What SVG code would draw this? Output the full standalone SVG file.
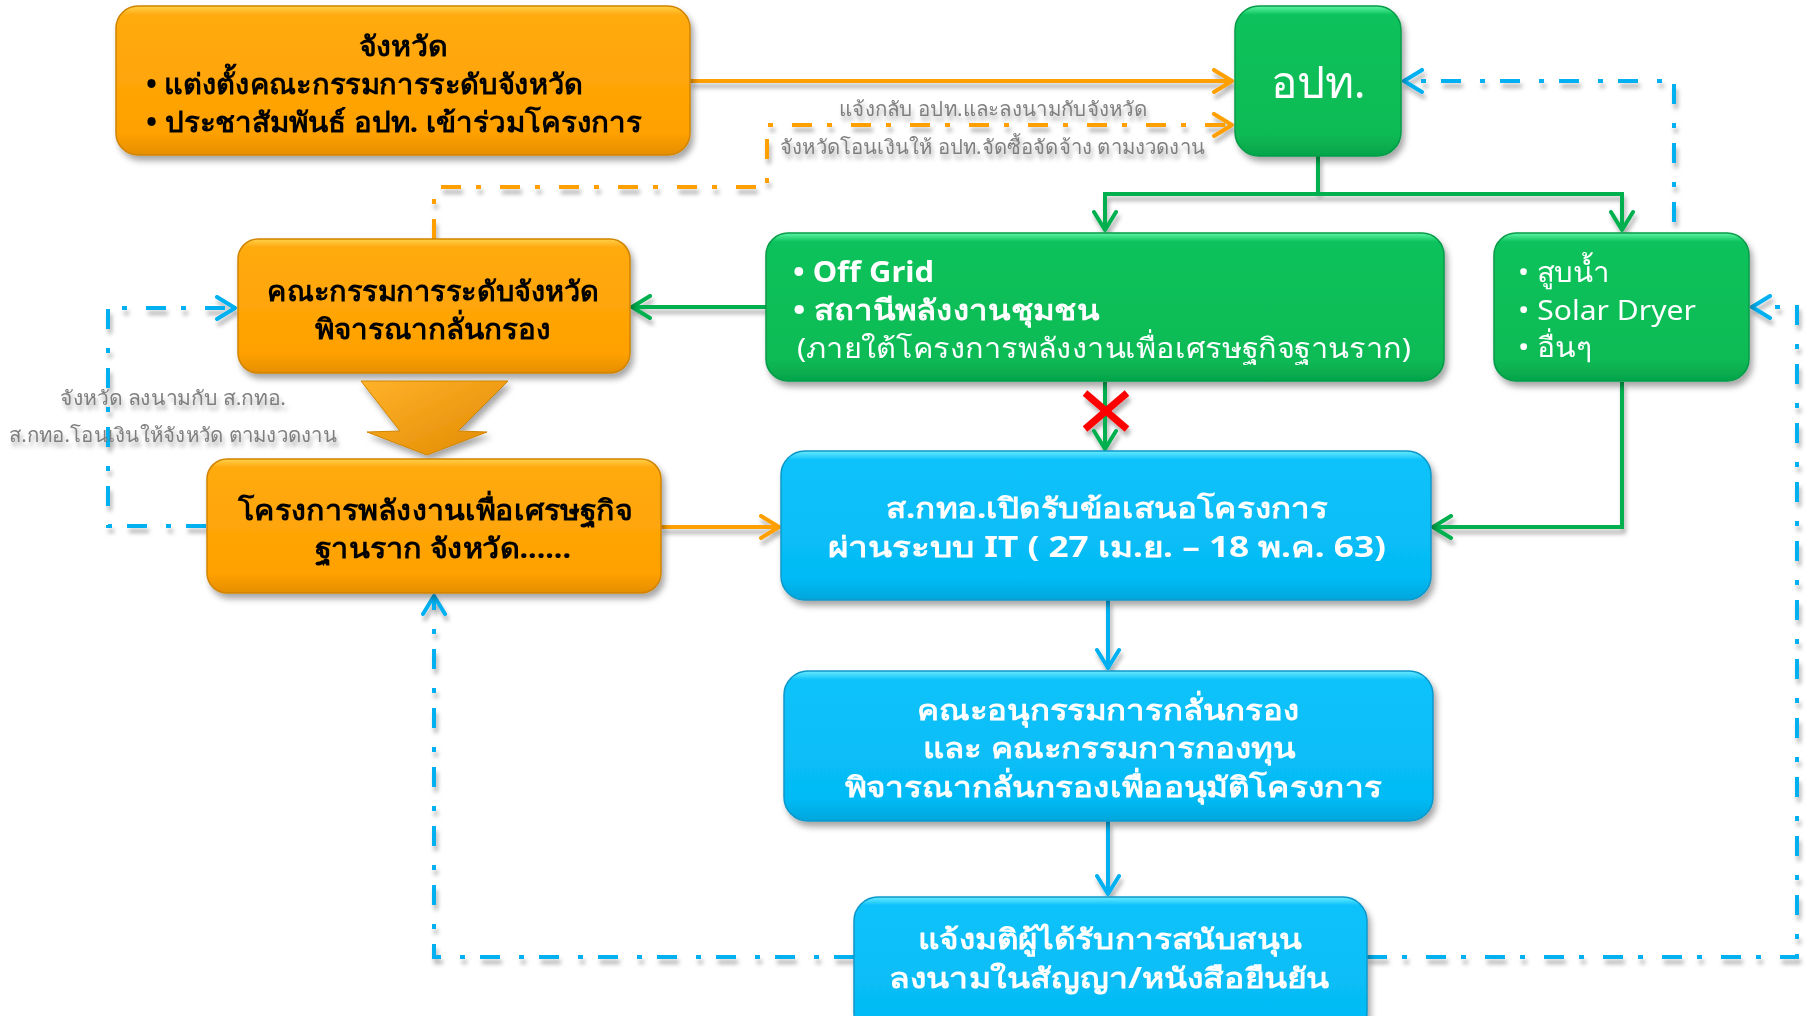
<svg xmlns="http://www.w3.org/2000/svg" width="1810" height="1016" viewBox="0 0 1810 1016">
<style>
.t{font-family:"Noto Sans","DejaVu Sans",sans-serif;}
.blk{fill:#000;font-weight:bold;font-size:28px;}
.wht{fill:#fff;font-weight:bold;font-size:28px;}
.whn{fill:#fff;font-weight:normal;font-size:28px;}
.gry{fill:#7F7F7F;font-size:20px;}
.c{text-anchor:middle;}
.on{fill:url(#gO);stroke:#D08400;stroke-width:1.5;}
.gn{fill:url(#gG);stroke:#079A48;stroke-width:1.5;}
.bn{fill:url(#gB);stroke:#0A97C9;stroke-width:1.5;}
.lo{fill:none;stroke:#FF9F00;stroke-width:4;}
.lg{fill:none;stroke:#00B050;stroke-width:4;}
.lb{fill:none;stroke:#00B0F0;stroke-width:4;}
.dd{stroke-dasharray:20 15 5 19;}
</style>
<defs>
<linearGradient id="gO" x1="0" y1="0" x2="0" y2="1">
<stop offset="0" stop-color="#FFD24A"/><stop offset="0.06" stop-color="#FFAA10"/><stop offset="0.85" stop-color="#FFA100"/><stop offset="1" stop-color="#E58E00"/>
</linearGradient>
<linearGradient id="gG" x1="0" y1="0" x2="0" y2="1">
<stop offset="0" stop-color="#5CF5A5"/><stop offset="0.06" stop-color="#0CC25B"/><stop offset="0.85" stop-color="#08BB55"/><stop offset="1" stop-color="#06A44A"/>
</linearGradient>
<linearGradient id="gB" x1="0" y1="0" x2="0" y2="1">
<stop offset="0" stop-color="#6AEBFF"/><stop offset="0.06" stop-color="#0CC2FA"/><stop offset="0.85" stop-color="#05BBF5"/><stop offset="1" stop-color="#04A6DC"/>
</linearGradient>
<linearGradient id="gA" x1="0" y1="0" x2="1" y2="1">
<stop offset="0" stop-color="#FFB22A"/><stop offset="1" stop-color="#E08A00"/>
</linearGradient>
<filter id="sh" x="-10%" y="-10%" width="120%" height="130%">
<feDropShadow dx="3" dy="5" stdDeviation="3" flood-color="#000" flood-opacity="0.35"/>
</filter>
<filter id="lsh" x="-5%" y="-5%" width="110%" height="110%">
<feDropShadow dx="2" dy="5" stdDeviation="2" flood-color="#000" flood-opacity="0.3"/>
</filter>
<marker id="ao" viewBox="0 0 24 26" refX="22" refY="13" markerWidth="24" markerHeight="26" markerUnits="userSpaceOnUse" orient="auto"><path d="M3,2 L21,13 L3,24" fill="none" stroke="#FF9F00" stroke-width="4" stroke-linecap="round" stroke-linejoin="round"/></marker>
<marker id="ag" viewBox="0 0 24 26" refX="22" refY="13" markerWidth="24" markerHeight="26" markerUnits="userSpaceOnUse" orient="auto"><path d="M3,2 L21,13 L3,24" fill="none" stroke="#00B050" stroke-width="4" stroke-linecap="round" stroke-linejoin="round"/></marker>
<marker id="ab" viewBox="0 0 24 26" refX="22" refY="13" markerWidth="24" markerHeight="26" markerUnits="userSpaceOnUse" orient="auto"><path d="M3,2 L21,13 L3,24" fill="none" stroke="#00B0F0" stroke-width="4" stroke-linecap="round" stroke-linejoin="round"/></marker>
</defs>
<rect width="1810" height="1016" fill="#fff"/>

<g id="connectors" filter="url(#lsh)">
<path class="lo" d="M690,81 H1233" marker-end="url(#ao)"/>
<path class="lo dd" d="M434,239 V187 H767 V125 H1233" marker-end="url(#ao)"/>
<path class="lg" d="M1318,156 V194 H1105 V231" marker-end="url(#ag)"/>
<path class="lg" d="M1318,194 H1622 V231" marker-end="url(#ag)"/>
<path class="lb dd" d="M1674,222 V81 H1403" marker-end="url(#ab)"/>
<path class="lg" d="M766,307 H631" marker-end="url(#ag)"/>
<path class="lg" d="M1105,382 V450" marker-end="url(#ag)"/>
<path class="lg" d="M1622,382 V527 H1432" marker-end="url(#ag)"/>
<path class="lo" d="M661,527 H780" marker-end="url(#ao)"/>
<path class="lb dd" d="M206,526 H108 V308 H236" marker-end="url(#ab)"/>
<path class="lb" d="M1108,600 V669" marker-end="url(#ab)"/>
<path class="lb" d="M1108,821 V895" marker-end="url(#ab)"/>
<path class="lb dd" d="M854,957 H434 V595" marker-end="url(#ab)"/>
<path class="lb dd" d="M1367,957 H1797 V307 H1751" marker-end="url(#ab)"/>
<g id="red-x" stroke="#FF0000" stroke-width="7">
<line x1="1085" y1="393" x2="1127" y2="429"/>
<line x1="1127" y1="393" x2="1085" y2="429"/>
</g>
<text class="t gry c" x="993" y="116" textLength="308" lengthAdjust="spacingAndGlyphs">แจ้งกลับ อปท.และลงนามกับจังหวัด</text>
<text class="t gry" x="780" y="154" textLength="425" lengthAdjust="spacingAndGlyphs">จังหวัดโอนเงินให้ อปท.จัดซื้อจัดจ้าง ตามงวดงาน</text>
<text class="t gry c" x="173" y="405" textLength="226" lengthAdjust="spacingAndGlyphs">จังหวัด ลงนามกับ ส.กทอ.</text>
<text class="t gry c" x="173" y="442" textLength="328" lengthAdjust="spacingAndGlyphs">ส.กทอ.โอนเงินให้จังหวัด ตามงวดงาน</text>
</g>

<g id="node-province" filter="url(#sh)">
<rect class="on" x="116" y="6" width="574" height="149" rx="22"/>
<text class="t blk c" x="403" y="56" textLength="89" lengthAdjust="spacingAndGlyphs">จังหวัด</text>
<text class="t blk" x="146" y="94" textLength="437" lengthAdjust="spacingAndGlyphs">• แต่งตั้งคณะกรรมการระดับจังหวัด</text>
<text class="t blk" x="146" y="132" textLength="496" lengthAdjust="spacingAndGlyphs">• ประชาสัมพันธ์ อปท. เข้าร่วมโครงการ</text>
</g>

<g id="node-lao" filter="url(#sh)">
<rect class="gn" x="1235" y="6" width="166" height="150" rx="24"/>
<text class="t whn c" x="1318" y="98" style="font-size:44px" textLength="95" lengthAdjust="spacingAndGlyphs">อปท.</text>
</g>

<g id="node-committee" filter="url(#sh)">
<rect class="on" x="238" y="239" width="392" height="134" rx="20"/>
<text class="t blk c" x="433" y="301" textLength="332" lengthAdjust="spacingAndGlyphs">คณะกรรมการระดับจังหวัด</text>
<text class="t blk c" x="433" y="339" textLength="236" lengthAdjust="spacingAndGlyphs">พิจารณากลั่นกรอง</text>
</g>

<g id="node-offgrid" filter="url(#sh)">
<rect class="gn" x="766" y="233" width="678" height="148" rx="22"/>
<text class="t wht" x="793" y="282" textLength="141" lengthAdjust="spacingAndGlyphs">• Off Grid</text>
<text class="t wht" x="793" y="320" textLength="306" lengthAdjust="spacingAndGlyphs">• สถานีพลังงานชุมชน</text>
<text class="t whn" x="797" y="358" textLength="614" lengthAdjust="spacingAndGlyphs">(ภายใต้โครงการพลังงานเพื่อเศรษฐกิจฐานราก)</text>
</g>

<g id="node-pump" filter="url(#sh)">
<rect class="gn" x="1494" y="233" width="255" height="148" rx="22"/>
<text class="t whn" x="1518" y="282" textLength="92" lengthAdjust="spacingAndGlyphs">• สูบน้ำ</text>
<text class="t whn" x="1518" y="320" textLength="178" lengthAdjust="spacingAndGlyphs">• Solar Dryer</text>
<text class="t whn" x="1518" y="357" textLength="74" lengthAdjust="spacingAndGlyphs">• อื่นๆ</text>
</g>

<g id="node-arrow" filter="url(#sh)">
<polygon points="361,381 508,381 458,431 487,432 427,455 367,432 400,431" fill="url(#gA)" stroke="#D08400" stroke-width="1"/>
</g>

<g id="node-project" filter="url(#sh)">
<rect class="on" x="207" y="459" width="454" height="134" rx="20"/>
<text class="t blk c" x="435" y="520" textLength="394" lengthAdjust="spacingAndGlyphs">โครงการพลังงานเพื่อเศรษฐกิจ</text>
<text class="t blk c" x="443" y="558" textLength="256" lengthAdjust="spacingAndGlyphs">ฐานราก จังหวัด......</text>
</g>

<g id="node-open" filter="url(#sh)">
<rect class="bn" x="781" y="451" width="650" height="149" rx="24"/>
<text class="t wht c" x="1107" y="518" textLength="442" lengthAdjust="spacingAndGlyphs">ส.กทอ.เปิดรับข้อเสนอโครงการ</text>
<text class="t wht c" x="1107" y="557" textLength="558" lengthAdjust="spacingAndGlyphs">ผ่านระบบ IT ( 27 เม.ย. – 18 พ.ค. 63)</text>
</g>

<g id="node-subcommittee" filter="url(#sh)">
<rect class="bn" x="784" y="671" width="649" height="150" rx="24"/>
<text class="t wht c" x="1108" y="720" textLength="383" lengthAdjust="spacingAndGlyphs">คณะอนุกรรมการกลั่นกรอง</text>
<text class="t wht c" x="1109" y="758" textLength="372" lengthAdjust="spacingAndGlyphs">และ คณะกรรมการกองทุน</text>
<text class="t wht c" x="1113" y="797" textLength="537" lengthAdjust="spacingAndGlyphs">พิจารณากลั่นกรองเพื่ออนุมัติโครงการ</text>
</g>

<g id="node-notify" filter="url(#sh)">
<rect class="bn" x="854" y="897" width="513" height="140" rx="24"/>
<text class="t wht c" x="1110" y="949" textLength="384" lengthAdjust="spacingAndGlyphs">แจ้งมติผู้ได้รับการสนับสนุน</text>
<text class="t wht c" x="1109" y="988" textLength="440" lengthAdjust="spacingAndGlyphs">ลงนามในสัญญา/หนังสือยืนยัน</text>
</g>
</svg>
